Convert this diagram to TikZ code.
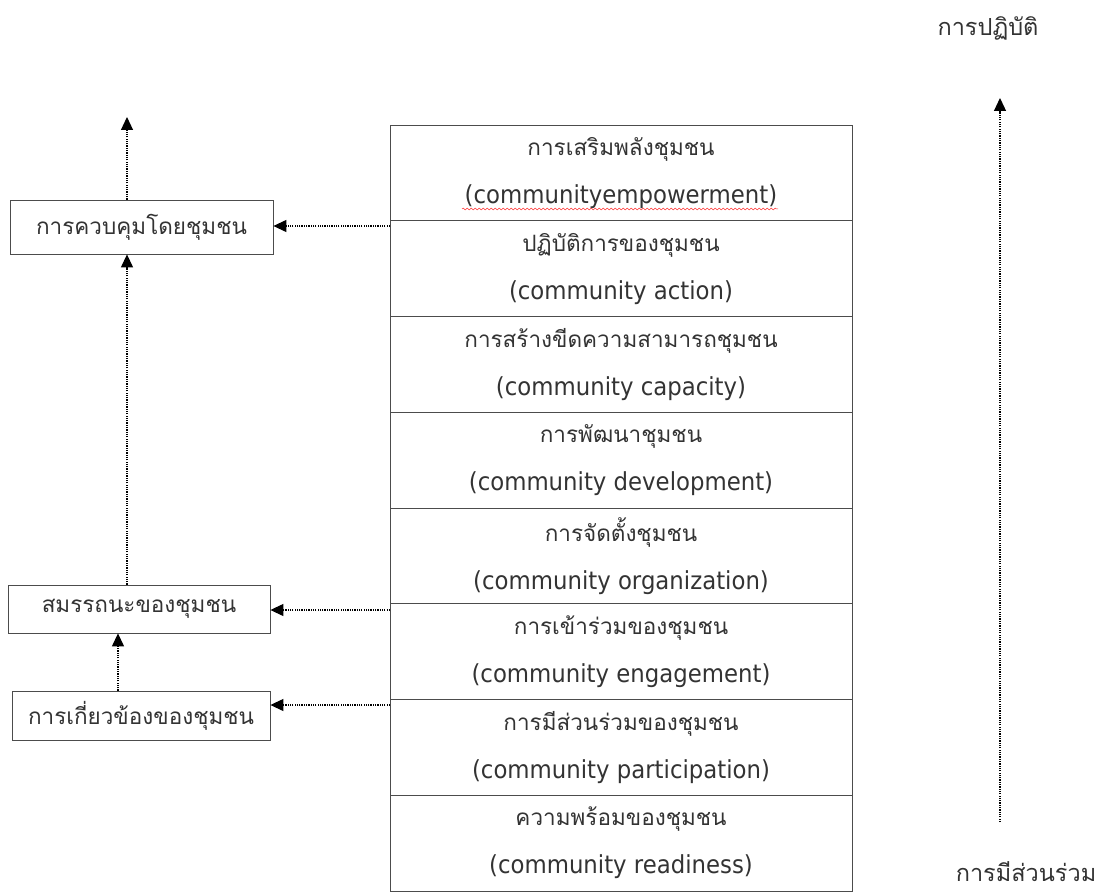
\documentclass[tikz,border=0pt]{standalone}
\usepackage{fontspec}
\setmainfont[Script=Thai]{Loma}
\newfontfamily\latfam[FakeStretch=0.92]{DejaVu Sans}
\newcommand{\lat}[1]{{\latfam\fontsize{24.8}{48}\selectfont #1}}
\usetikzlibrary{arrows.meta,decorations.pathmorphing}
\begin{document}
\begin{tikzpicture}[x=1pt,y=-1pt,
  every node/.style={font=\fontsize{22.5}{48}\selectfont, text=black!80},
  rowbox/.style={draw=black!70, line width=0.8pt, minimum width=462pt, minimum height=95.75pt, align=center, inner sep=0pt, outer sep=0pt, anchor=north},
  sidebox/.style={draw=black!70, line width=0.8pt, inner sep=0pt, align=center},
  darr/.style={line width=1.2pt, dash pattern=on 1.2pt off 1.1pt, -{Triangle[length=13pt,width=12pt]}},
  lbl/.style={font=\fontsize{23.5}{28}\selectfont}
]
\useasboundingbox (0,0) rectangle (1102,893);
% main column
\node[rowbox] (r1) at (621,125) {การเสริมพลังชุมชน\\\lat{(communityempowerment)}};
\node[rowbox] (r2) at (r1.south) {ปฏิบัติการของชุมชน\\\lat{(community action)}};
\node[rowbox] (r3) at (r2.south) {การสร้างขีดความสามารถชุมชน\\\lat{(community capacity)}};
\node[rowbox] (r4) at (r3.south) {การพัฒนาชุมชน\\\lat{(community development)}};
\node[rowbox] (r5) at (r4.south) {การจัดตั้งชุมชน\\\lat{(community organization)}};
\node[rowbox] (r6) at (r5.south) {การเข้าร่วมของชุมชน\\\lat{(community engagement)}};
\node[rowbox] (r7) at (r6.south) {การมีส่วนร่วมของชุมชน\\\lat{(community participation)}};
\node[rowbox] (r8) at (r7.south) {ความพร้อมของชุมชน\\\lat{(community readiness)}};
% red spell-check squiggle
\coordinate (sq1) at (462,209);
\coordinate (sq2) at (778,209);
\draw[red!80, line width=0.5pt, decorate, decoration={snake, amplitude=0.9pt, segment length=4pt}] (sq1) -- (sq2);
% side boxes
\node[sidebox, minimum width=263pt, minimum height=54pt] (ctrl) at (141.5,227) {การควบคุมโดยชุมชน};
\node[sidebox, minimum width=262pt, minimum height=48pt] (comp) at (139,609) {สมรรถนะของชุมชน};
\node[sidebox, minimum width=258pt, minimum height=49pt] (inv) at (141,715.5) {การเกี่ยวข้องของชุมชน};
% horizontal arrows
\coordinate (h1) at (390,226);
\coordinate (h2) at (390,610);
\coordinate (h3) at (390,705);
\draw[darr] (h1) -- (h1 -| ctrl.east);
\draw[darr] (h2) -- (h2 -| comp.east);
\draw[darr] (h3) -- (h3 -| inv.east);
% vertical arrows
\coordinate (top) at (127,117);
\draw[darr] (ctrl.north -| top) -- (top);
\draw[darr] (comp.north -| top) -- (ctrl.south -| top);
\coordinate (v3) at (118,0);
\draw[darr] (inv.north -| v3) -- (comp.south -| v3);
% right axis
\node[lbl] (prac) at (988,28) {การปฏิบัติ};
\node[lbl] (part) at (1026,872) {การมีส่วนร่วม};
\coordinate (ab) at (1000,822);
\coordinate (at) at (1000,98);
\draw[darr] (ab) -- (at);
\end{tikzpicture}
\end{document}
